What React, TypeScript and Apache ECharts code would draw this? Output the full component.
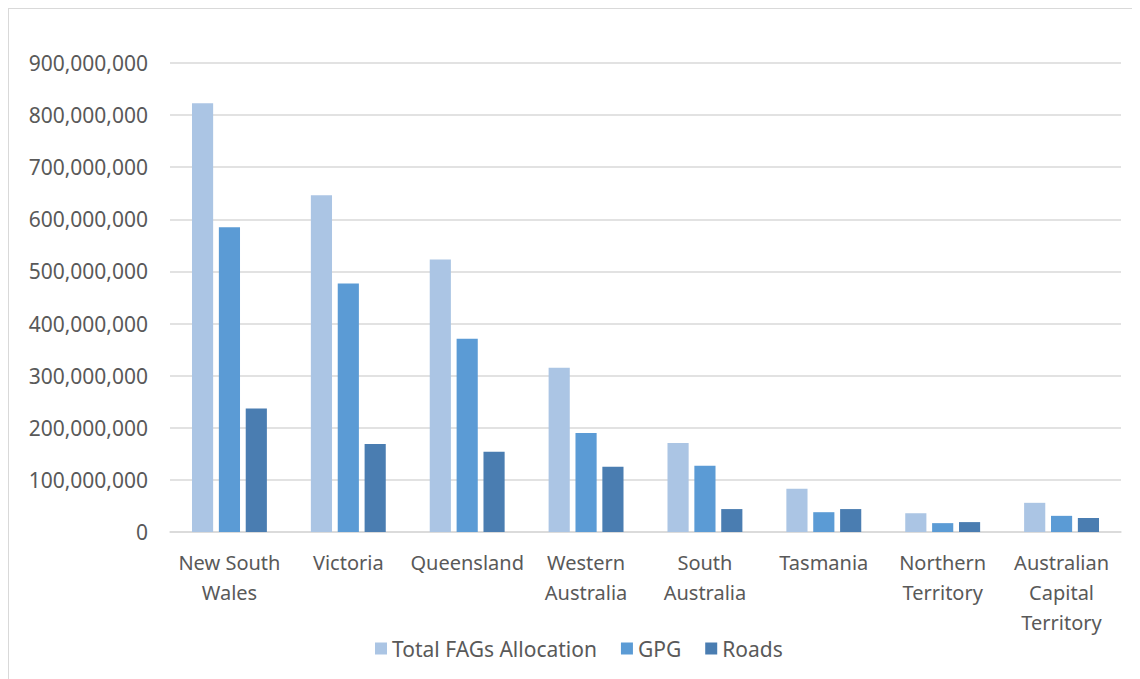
import React, { useEffect, useRef } from "react";
import * as echarts from "echarts";

const categories = [
  "New South Wales",
  "Victoria",
  "Queensland",
  "Western Australia",
  "South Australia",
  "Tasmania",
  "Northern Territory",
  "Australian Capital Territory",
];
const tickLabels = [
  "New South\nWales",
  "Victoria",
  "Queensland",
  "Western\nAustralia",
  "South\nAustralia",
  "Tasmania",
  "Northern\nTerritory",
  "Australian\nCapital\nTerritory",
];
const totalFAGs = [823000000, 646000000, 523000000, 315000000, 171000000, 83000000, 36000000, 56000000];
const gpg = [585000000, 477000000, 371000000, 190000000, 127000000, 38000000, 17000000, 31000000];
const roads = [237000000, 169000000, 154000000, 125000000, 44000000, 44000000, 19000000, 27000000];
const seriesNames = ["Total FAGs Allocation", "GPG", "Roads"];
const colors = ["#abc5e4", "#5b9bd5", "#4a7db1"];

const FONT = "'Noto Sans', 'Open Sans', sans-serif";

export default function App() {
  const ref = useRef<HTMLDivElement>(null);
  useEffect(() => {
    if (!ref.current) return;
    const chart = echarts.init(ref.current, undefined, { renderer: "svg" });
    chart.setOption({
      animation: false,
      textStyle: { fontFamily: FONT },
      grid: { left: 161, right: 15, top: 54, bottom: 155, containLabel: false },
      legend: {
        left: 361,
        top: 624,
        itemWidth: 12,
        itemHeight: 12,
        itemGap: 24,
        icon: "rect",
        textStyle: { color: "#595959", fontSize: 21, fontFamily: FONT },
        data: seriesNames,
      },
      xAxis: {
        type: "category",
        data: categories,
        axisLine: { lineStyle: { color: "#d9d9d9", width: 1.5 } },
        axisTick: { show: false },
        axisLabel: {
          color: "#595959",
          fontSize: 20,
          lineHeight: 30,
          margin: 15,
          interval: 0,
          formatter: (_v: string, i: number) => tickLabels[i],
        },
      },
      yAxis: {
        type: "value",
        min: 0,
        max: 900000000,
        interval: 100000000,
        axisLine: { show: false },
        axisTick: { show: false },
        splitLine: { lineStyle: { color: "#d9d9d9", width: 1.5 } },
        axisLabel: {
          color: "#595959",
          fontSize: 21,
          margin: 22,
          formatter: (v: number) => v.toLocaleString("en-US"),
        },
      },
      series: seriesNames.map((name, k) => ({
        name,
        type: "bar",
        data: [totalFAGs, gpg, roads][k],
        itemStyle: { color: colors[k] },
        barGap: "27%",
        barCategoryGap: "37%",
      })),
    });
    return () => chart.dispose();
  }, []);
  return (
    <div style={{ width: 1129, height: 680, border: "1px solid #d9d9d9", boxSizing: "border-box" }}>
      <div ref={ref} style={{ width: 1127, height: 678 }} />
    </div>
  );
}
